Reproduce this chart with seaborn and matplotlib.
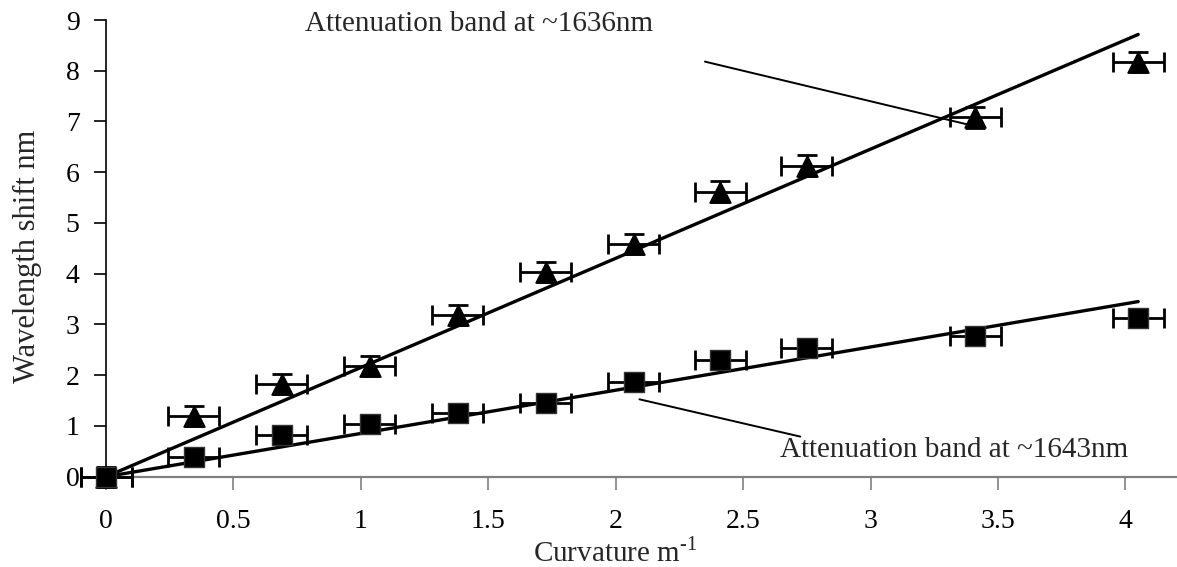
import numpy as np
import pandas as pd
import matplotlib
matplotlib.use("Agg")
import matplotlib.pyplot as plt
import seaborn as sns

# Data
curvature = [0.0, 0.345, 0.69, 1.035, 1.38, 1.725, 2.07, 2.41, 2.75, 3.41, 4.05]
shift_1636 = [0.0, 1.20, 1.83, 2.18, 3.19, 4.03, 4.58, 5.62, 6.13, 7.08, 8.17]
shift_1643 = [0.0, 0.39, 0.82, 1.04, 1.25, 1.46, 1.87, 2.30, 2.53, 2.78, 3.12]
x_err = 0.1
y_err_1636 = 0.2
y_err_1643 = 0.12
xticks = [0, 0.5, 1, 1.5, 2, 2.5, 3, 3.5, 4]
yticks = list(range(0, 10))
label_1636 = "Attenuation band at ~1636nm"
label_1643 = "Attenuation band at ~1643nm"

sns.set_theme(style="white")
plt.rcParams['font.family'] = ['Liberation Serif', 'DejaVu Serif']
plt.rcParams['mathtext.fontset'] = 'custom'
plt.rcParams['mathtext.rm'] = 'Liberation Serif'

fig = plt.figure(figsize=(11.77, 5.67), dpi=100)
ax = fig.add_axes([0.0901, 0.1593, 0.9094, 0.8054])

x = np.array(curvature)
df = pd.DataFrame({"x": curvature, "a": shift_1636, "b": shift_1643})

# linear fits through origin
for col in ["a", "b"]:
    y = df[col].to_numpy()
    slope = np.sum(x * y) / np.sum(x * x)
    xf = np.array([0.0, x.max()])
    sns.lineplot(x=xf, y=slope * xf, ax=ax, color="black", lw=2.4, zorder=2)

ax.errorbar(curvature, shift_1636, xerr=x_err, yerr=y_err_1636, fmt="none",
            ecolor="black", elinewidth=2.0, capsize=7, capthick=2.0, zorder=3, clip_on=False)
ax.errorbar(curvature, shift_1643, xerr=x_err, yerr=y_err_1643, fmt="none",
            ecolor="black", elinewidth=2.0, capsize=7, capthick=2.0, zorder=3, clip_on=False)

sns.scatterplot(data=df, x="x", y="a", marker="^", s=230, color="black",
                edgecolor="black", linewidth=1, ax=ax, zorder=4, clip_on=False)
sns.scatterplot(data=df, x="x", y="b", marker="s", s=220, color="black",
                edgecolor="#333333", linewidth=1, ax=ax, zorder=5, clip_on=False)

# annotations
ax.text(0.78, 8.92, label_1636, fontsize=21, ha="left", va="center")
ax.plot([2.35, 3.39], [8.18, 6.93], color="black", lw=1.4)
ax.text(2.645, 0.53, label_1643, fontsize=21, ha="left", va="center")
ax.plot([2.093, 2.724], [1.525, 0.79], color="black", lw=1.4)

ax.set_xlim(0, 4.2)
ax.set_ylim(0, 9)
ax.set_xticks(xticks)
ax.set_xticklabels(["0", "0.5", "1", "1.5", "2", "2.5", "3", "3.5", "4"])
ax.set_yticks(yticks)
ax.tick_params(axis="both", labelsize=20, direction="out", length=9, width=1.2,
               colors="black", bottom=True, left=True)
ax.tick_params(axis="x", color="#808080", pad=14)
ax.tick_params(axis="y", pad=10)

for s in ["top", "right"]:
    ax.spines[s].set_visible(False)
ax.spines["left"].set_color("black")
ax.spines["left"].set_linewidth(1.2)
ax.spines["bottom"].set_color("#808080")
ax.spines["bottom"].set_linewidth(1.6)

ax.set_xlabel("")
ax.set_ylabel("")
fig.text(0.523, 0.026, r"Curvature m$^{\text{-1}}$", fontsize=21, ha="center", va="center")
fig.text(0.023, 0.548, "Wavelength shift nm", fontsize=22, ha="center", va="center", rotation=90)

fig.savefig("out.png", dpi=100)
